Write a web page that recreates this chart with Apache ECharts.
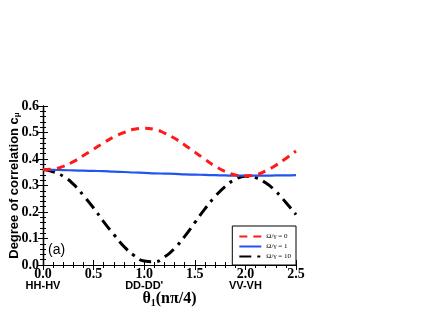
<!DOCTYPE html>
<html>
<head>
<meta charset="utf-8">
<script src="https://cdn.jsdelivr.net/npm/echarts@6/dist/echarts.min.js"></script>
<style>
  html, body { margin: 0; padding: 0; background: #fff; }
  #chart { width: 436px; height: 327px; }
</style>
</head>
<body>
<div id="chart"></div>
<script>
// theta_1 in units of n*pi/4
var theta = [0.0, 0.1, 0.2, 0.3, 0.4, 0.5, 0.6, 0.7, 0.8, 0.9, 1.0, 1.1, 1.2,
             1.3, 1.4, 1.5, 1.6, 1.7, 1.8, 1.9, 2.0, 2.1, 2.2, 2.3, 2.4, 2.5];
var omega0 = [0.360, 0.362, 0.372, 0.390, 0.413, 0.437, 0.461, 0.483, 0.500, 0.512, 0.516, 0.512, 0.498,
              0.478, 0.453, 0.426, 0.399, 0.373, 0.353, 0.340, 0.336, 0.340, 0.355, 0.376, 0.402, 0.430];
var omega1 = [0.360, 0.359, 0.358, 0.357, 0.356, 0.355, 0.354, 0.352, 0.351, 0.349, 0.348, 0.346, 0.345,
              0.344, 0.342, 0.341, 0.340, 0.339, 0.338, 0.337, 0.337, 0.337, 0.337, 0.338, 0.338, 0.339];
var omega10 = [0.360, 0.352, 0.335, 0.305, 0.262, 0.215, 0.163, 0.115, 0.070, 0.036, 0.015, 0.012, 0.030,
               0.063, 0.108, 0.160, 0.212, 0.258, 0.296, 0.323, 0.335, 0.330, 0.310, 0.278, 0.236, 0.190];
var seriesNames = ['Ω/γ = 0', 'Ω/γ = 1', 'Ω/γ = 10'];
var stateLabels = {'0.0': 'HH-HV', '1.0': "DD-DD'", '2.0': 'VV-VH'};

function pairs(ys) {
    return theta.map(function (t, i) { return [t, ys[i]]; });
}

var myChart = echarts.init(document.getElementById('chart'));

var axLine = {show: true, lineStyle: {color: '#000', width: 1.2}};
var majorTick = {show: true, inside: true, length: 5, lineStyle: {color: '#000'}};
var minorTickAx = {show: true, inside: true, length: 3, lineStyle: {color: '#000'}};

// frame axis with only ticks (mirror / minor ticks)
function tickAxis(pos, max, step, tick) {
    return {
        type: 'value', min: 0, max: max, interval: step, position: pos,
        axisLine: pos === 'top' || pos === 'right' ? axLine : {show: false},
        axisTick: tick, axisLabel: {show: false}, splitLine: {show: false}
    };
}

var option = {
    animation: false,
    grid: {left: 43, right: 140, top: 106, bottom: 62, outerBoundsMode: 'none'},
    xAxis: [
        {
            type: 'value', min: 0, max: 2.5, interval: 0.5,
            axisLine: axLine, axisTick: majorTick, splitLine: {show: false},
            name: '{t|θ}{s|1}{t|(nπ/4)}',
            nameLocation: 'middle', nameGap: 25, nameMoveOverlap: false,
            nameTextStyle: {
                rich: {
                    t: {fontFamily: 'Liberation Serif', fontWeight: 'bold', fontSize: 16, color: '#000'},
                    s: {fontFamily: 'Liberation Serif', fontWeight: 'bold', fontSize: 10, color: '#000', padding: [8, 0, 0, 0]}
                }
            },
            axisLabel: {
                margin: 3,
                formatter: function (v) {
                    var k = v.toFixed(1);
                    var s = '{n|' + k + '}';
                    if (stateLabels[k]) s += '\n{c|' + stateLabels[k] + '}';
                    return s;
                },
                rich: {
                    n: {fontFamily: 'Liberation Serif', fontWeight: 'bold', fontSize: 14, color: '#000', lineHeight: 13},
                    c: {fontFamily: 'Liberation Sans', fontWeight: 'bold', fontSize: 11, color: '#000', lineHeight: 10}
                }
            }
        },
        tickAxis('top', 2.5, 0.5, majorTick),
        tickAxis('bottom', 2.5, 0.1, minorTickAx),
        tickAxis('top', 2.5, 0.1, minorTickAx)
    ],
    yAxis: [
        {
            type: 'value', min: 0, max: 0.6, interval: 0.1,
            axisLine: axLine, axisTick: majorTick, splitLine: {show: false},
            name: 'Degree of correlation c{s|μ}',
            nameLocation: 'middle', nameGap: 22, nameMoveOverlap: false,
            nameTextStyle: {
                fontFamily: 'Liberation Sans', fontWeight: 'bold', fontSize: 13, color: '#000',
                rich: {
                    s: {fontFamily: 'Liberation Sans', fontWeight: 'bold', fontSize: 8, color: '#000', padding: [6, 0, 0, 0]}
                }
            },
            axisLabel: {
                margin: 4,
                fontFamily: 'Liberation Serif', fontWeight: 'bold', fontSize: 14, color: '#000',
                formatter: function (v) { return v.toFixed(1); }
            }
        },
        tickAxis('right', 0.6, 0.1, majorTick),
        tickAxis('left', 0.6, 0.02, minorTickAx),
        tickAxis('right', 0.6, 0.02, minorTickAx)
    ],
    legend: {
        right: 140, bottom: 62,
        orient: 'vertical',
        backgroundColor: '#fff',
        borderColor: '#000', borderWidth: 1,
        padding: [7, 5, 5, 6],
        itemGap: 3, itemWidth: 22, itemHeight: 8,
        itemStyle: {opacity: 0},
        textStyle: {fontFamily: 'Liberation Serif', fontSize: 7, color: '#000'},
        data: seriesNames
    },
    graphic: [{
        type: 'text', left: 48, top: 243,
        style: {text: '(a)', font: '14px "Liberation Sans"', fill: '#000'}
    }],
    series: [
        {
            name: seriesNames[0], type: 'line', smooth: true, symbol: 'none',
            data: pairs(omega0),
            lineStyle: {color: '#ff1a1a', width: 3, type: [8, 6]},
            itemStyle: {color: '#ff1a1a'}, z: 3
        },
        {
            name: seriesNames[1], type: 'line', smooth: true, symbol: 'none',
            data: pairs(omega1),
            lineStyle: {color: '#2255ee', width: 2.2},
            itemStyle: {color: '#2255ee'}, z: 2
        },
        {
            name: seriesNames[2], type: 'line', smooth: true, symbol: 'none',
            data: pairs(omega10),
            lineStyle: {color: '#000', width: 3, type: [12, 6, 3, 6]},
            itemStyle: {color: '#000'}, z: 1
        }
    ]
};
myChart.setOption(option);
</script>
</body>
</html>
